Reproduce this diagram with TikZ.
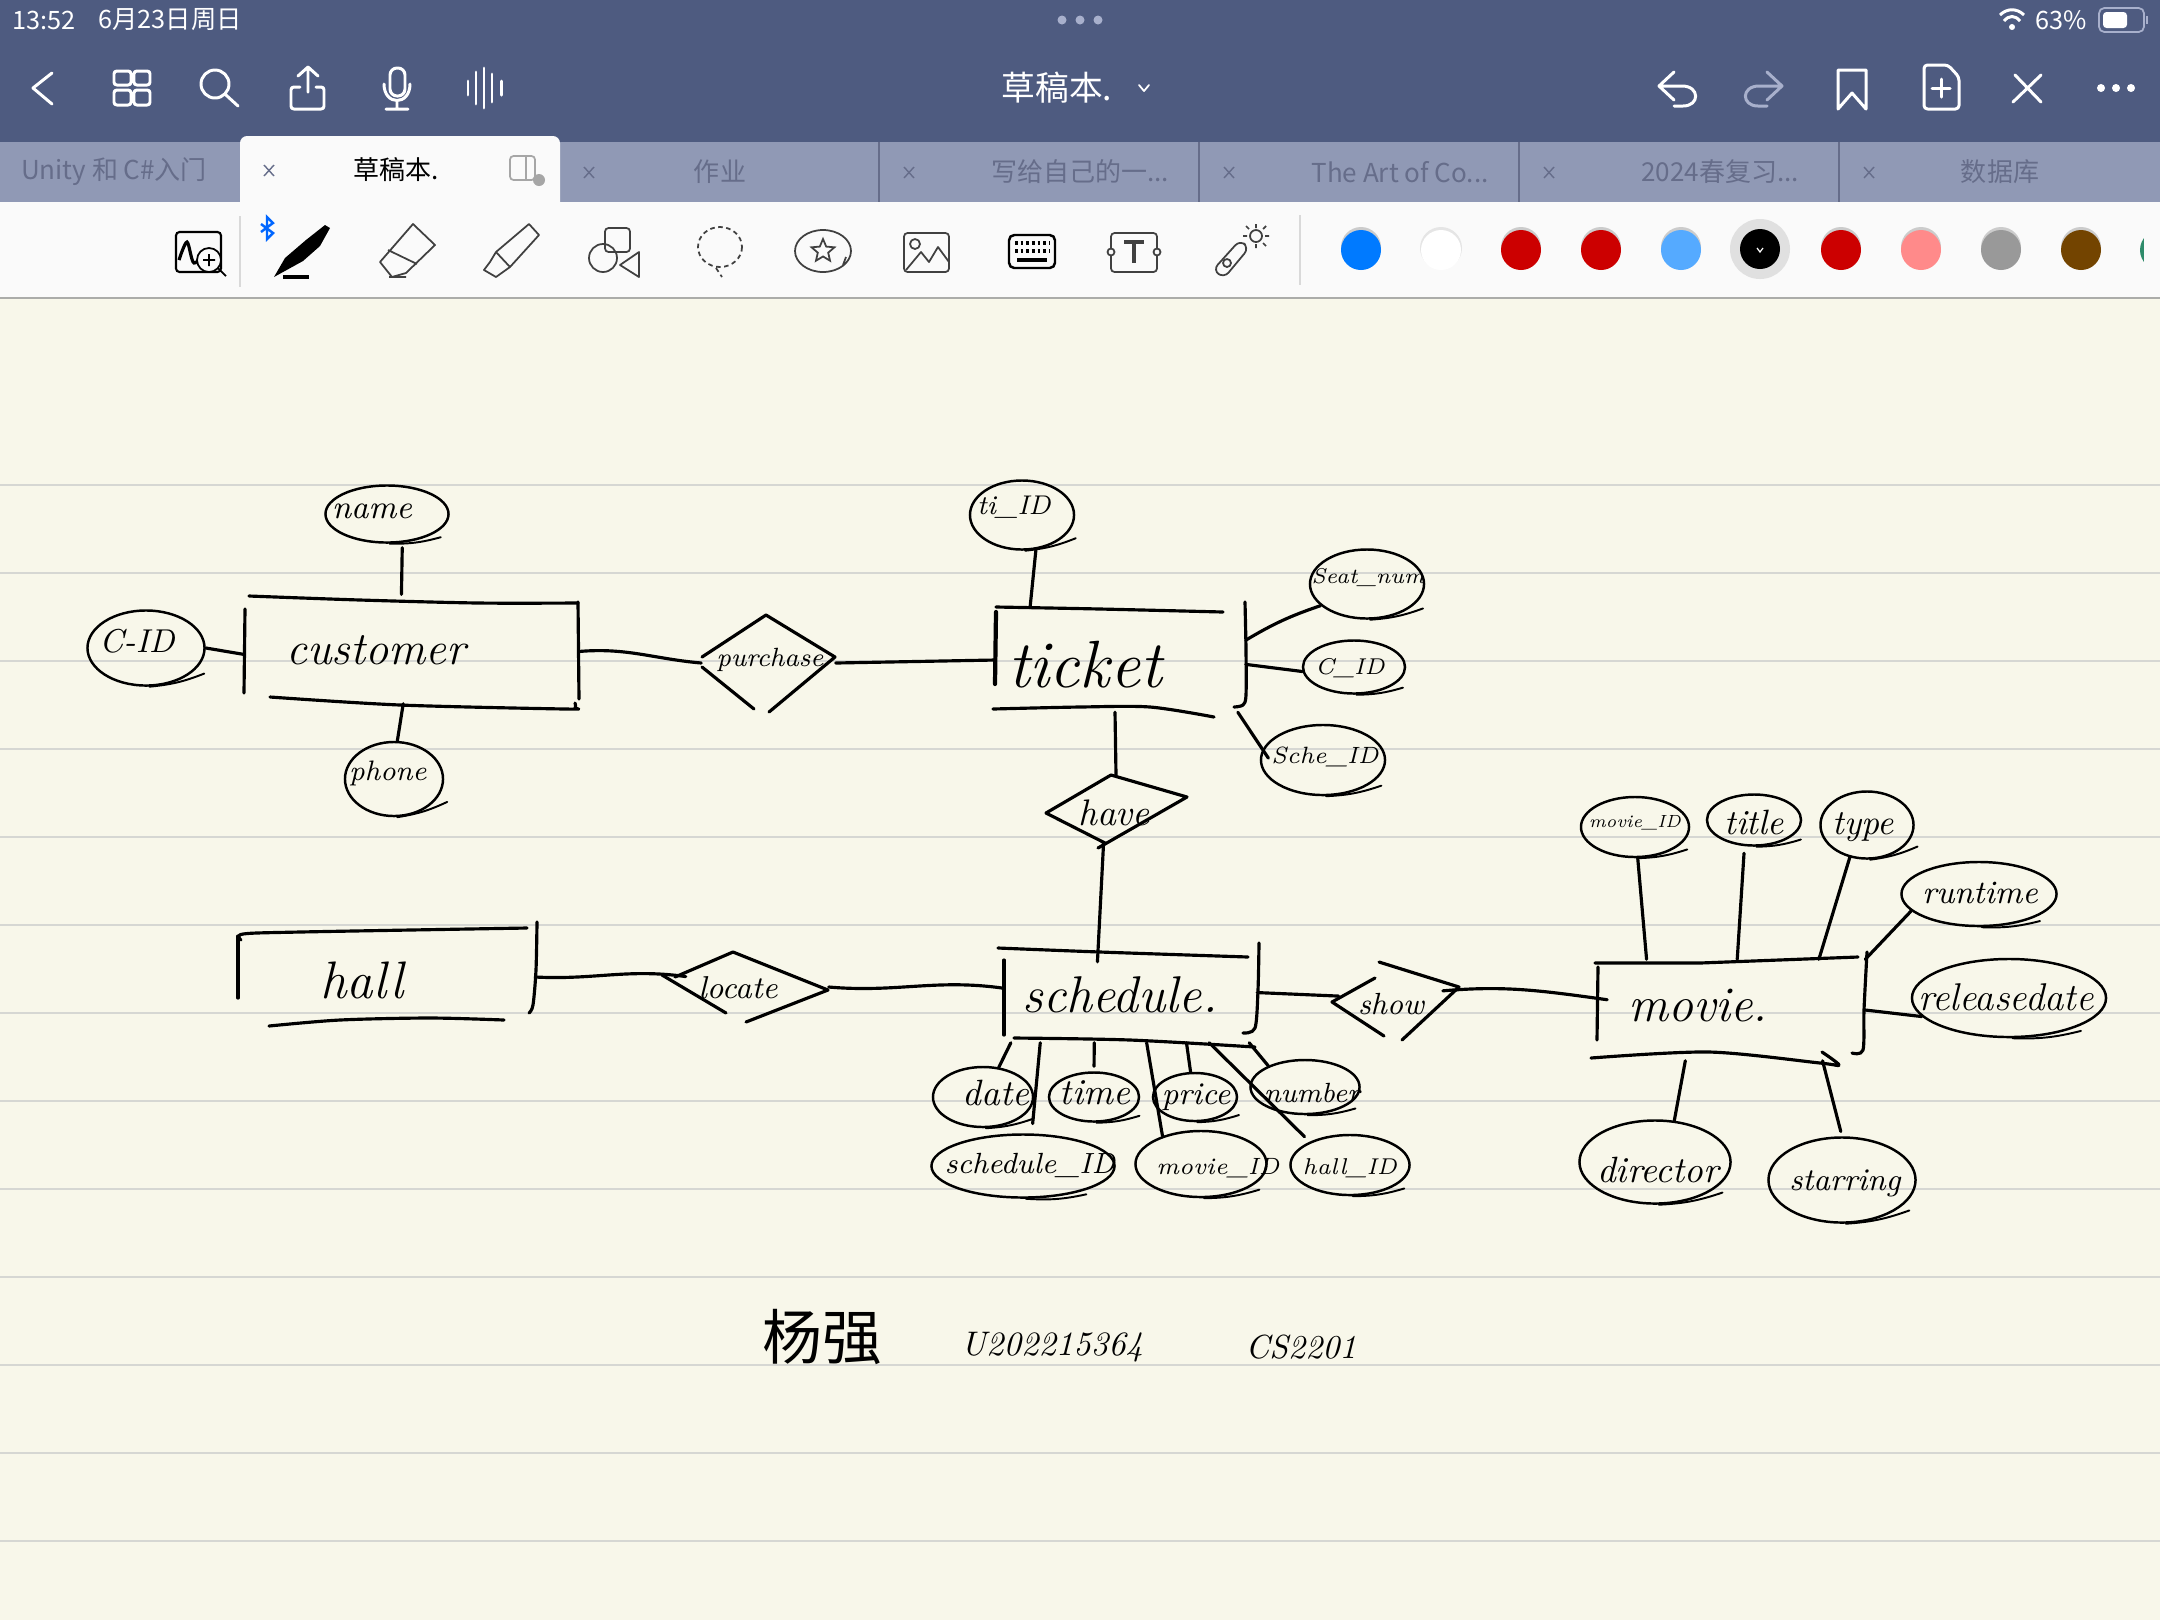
\documentclass[tikz,border=0pt]{standalone}
\usepackage{fontspec}
\usepackage{xcolor}
\usetikzlibrary{shapes.geometric}
\newfontfamily\cjk{Noto Sans CJK SC}
\definecolor{barblue}{HTML}{4E5B80}
\definecolor{tabblue}{HTML}{9099B5}
\definecolor{tabtext}{HTML}{666D8A}
\definecolor{paper}{HTML}{F8F7EA}
\definecolor{ruled}{HTML}{D6D7D3}
\definecolor{dimblue}{HTML}{A8B0CC}
\definecolor{toolgray}{HTML}{404040}
\definecolor{toolbg}{HTML}{FAFAFA}
\begin{document}
\begin{tikzpicture}[x=0.01cm, y=-0.01cm,
    pen/.style={line width=.9pt, line cap=round, line join=round},
    tail/.style={line width=.55pt, line cap=round},
    attr/.style={shape=ellipse, draw, line width=.7pt, inner sep=0pt,
        append after command={(\tikzlastnode.-85) edge[tail, bend right=8] ([shift={(12,1)}]\tikzlastnode.-28)}},
    entity/.style={shape=rectangle, inner sep=0pt},
    rel/.style={shape=diamond, inner sep=0pt},
    hand/.style={font=\fontsize{#1}{#1}\selectfont\itshape, inner sep=0pt},
    icon/.style={draw=white, line width=.85pt, line cap=round, line join=round},
    tool/.style={draw=toolgray, line width=.5pt, line join=round},
    uitext/.style={font=\cjk\fontsize{#1}{#1}\selectfont, inner sep=0pt},
    closer/.style={draw=tabtext, line width=.4pt}]
\useasboundingbox (0,0) rectangle (2160,1620);
\fill[paper] (0,0) rectangle (2160,1620);
\draw[ruled, line width=.6pt] (0,485) -- (2160,485) (0,573) -- (2160,573) (0,661) -- (2160,661)
    (0,749) -- (2160,749) (0,837) -- (2160,837) (0,925) -- (2160,925) (0,1013) -- (2160,1013)
    (0,1101) -- (2160,1101) (0,1189) -- (2160,1189) (0,1277) -- (2160,1277) (0,1365) -- (2160,1365)
    (0,1453) -- (2160,1453) (0,1541) -- (2160,1541);

% app bars
\fill[barblue] (0,0) rectangle (2160,142);
\fill[tabblue] (0,142) rectangle (2160,202);
\fill[toolbg] (0,202) rectangle (2160,298);
\draw[ruled!80!black, line width=.5pt] (0,298) -- (2160,298);
\fill[toolbg, rounded corners=2pt] (240,136) rectangle (560,210);
\fill[toolbg] (240,190) rectangle (560,202);
\fill[toolbg] (235,202) rectangle (565,215);
\draw[tabtext, line width=.3pt] (879,142) -- (879,202) (1199,142) -- (1199,202) (1519,142) -- (1519,202) (1839,142) -- (1839,202);

% status line
\node[uitext=7.2, white] (clock) at (44,20) {13:52};
\node[uitext=7.2, white] (today) at (170,20) {6月23日周日};
\fill[dimblue] (1062,20) circle (4.5) (1080,20) circle (4.5) (1098,20) circle (4.5);
\fill[white] (2012,27) circle (3);
\draw[white, line width=.85pt] (2000,15) .. controls (2007,8) and (2017,8) .. (2024,15)
    (2004,21) .. controls (2009,15) and (2015,15) .. (2020,21);
\node[uitext=7.2, white] (percent) at (2061,20) {63\%};
\draw[dimblue, line width=.5pt, rounded corners=1.5pt] (2099,8) rectangle (2144,32);
\fill[white, rounded corners=1pt] (2103,12) rectangle (2127,28);
\draw[dimblue, line width=.5pt] (2147,16) -- (2147,24);

% left icons
\draw[icon] (52,73) -- (33,88) -- (52,104);
\draw[icon, rounded corners=.8pt] (114,71) rectangle (131,85) (134,71) rectangle (150,85) (114,90) rectangle (131,105) (134,90) rectangle (150,105);
\draw[icon] (215,84) circle (14) (226,95) -- (238,106);
\draw[icon, rounded corners=.8pt] (300,87) -- (291,87) -- (291,109) -- (324,109) -- (324,87) -- (316,87);
\draw[icon] (308,92) -- (308,67) (298,76) -- (308,67) -- (318,76);
\draw[icon, rounded corners=2pt] (390,68) rectangle (405,96);
\draw[icon] (384,84) .. controls (384,106) and (410,106) .. (410,84) (397,102) -- (397,109) (386,109) -- (408,109);
\draw[icon] (468,81) -- (468,95) (476,72) -- (476,104) (484,68) -- (484,108) (492,74) -- (492,102) (501,81) -- (501,95);

% title and right icons
\node[uitext=9.6, white] (title) at (1057,88) {草稿本.};
\draw[icon, line width=.5pt] (1139,85) -- (1144,91) -- (1149,85);
\draw[icon] (1674,72) -- (1659,86) -- (1674,100) (1659,86) -- (1682,86) .. controls (1700,86) and (1700,106) .. (1683,106) -- (1674,106);
\draw[icon, draw=dimblue] (1767,72) -- (1782,86) -- (1767,100) (1782,86) -- (1759,86) .. controls (1741,86) and (1741,106) .. (1758,106) -- (1767,106);
\draw[icon] (1838,109) -- (1838,70) -- (1866,70) -- (1866,109) -- (1852,93) -- cycle;
\draw[icon, rounded corners=1pt] (1924,65) -- (1948,65) -- (1959,77) -- (1959,109) -- (1924,109) -- cycle;
\draw[icon] (1941,79) -- (1941,97) (1932,88) -- (1950,88);
\draw[icon] (2015,75) -- (2041,102) (2041,75) -- (2013,102);
\fill[white] (2101,88) circle (4) (2116,88) circle (4) (2131,88) circle (4);

% tabs
\node[uitext=7.4, tabtext] (tabunity) at (114,172) {Unity 和 C\#入门};
\node[uitext=7.4, black] (tabdraft) at (396,170) {草稿本.};
\node[uitext=7.4, tabtext] (tabwork) at (720,172) {作业};
\node[uitext=7.4, tabtext] (tabwrite) at (1080,172) {写给自己的一...};
\node[uitext=7.4, tabtext] (tabart) at (1400,172) {The Art of Co...};
\node[uitext=7.4, tabtext] (tabspring) at (1720,172) {2024春复习...};
\node[uitext=7.4, tabtext] (tabbase) at (2000,172) {数据库};
\draw[closer] (264,165) -- (274,176) (274,165) -- (264,176) (584,167) -- (594,178) (594,167) -- (584,178)
    (904,167) -- (914,178) (914,167) -- (904,178) (1224,167) -- (1234,178) (1234,167) -- (1224,178)
    (1544,167) -- (1554,178) (1554,167) -- (1544,178) (1864,167) -- (1874,178) (1874,167) -- (1864,178);
\draw[black!35, line width=.5pt, rounded corners=1pt] (510,156) rectangle (535,180) (526,156) -- (526,180);
\fill[black!35] (539,180) circle (6);

% tool row
\draw[black!15, line width=.4pt] (240,216) -- (240,287) (1300,215) -- (1300,285);
\draw[black, line width=.6pt, rounded corners=1pt] (176,232) rectangle (221,272);
\draw[black, line width=.9pt] plot[smooth] coordinates {(179,260) (187,242) (194,263) (207,250)};
\filldraw[fill=toolbg, draw=black, line width=.5pt] (209,260) circle (12);
\draw[black, line width=.5pt] (218,268) -- (226,276) (209,254) -- (209,266) (203,260) -- (215,260);
\draw[blue!60!cyan, line width=.7pt] (261,224) -- (273,233) -- (267,239) -- (267,217) -- (273,223) -- (261,232);
\fill[black] (274,277) -- (285,258) -- (306,240) -- (325,225) -- (330,228) -- (320,246) -- (303,261) -- cycle;
\draw[black, line width=.9pt] (283,277) -- (309,277);
\draw[tool] (413,224) -- (435,245) -- (406,273) -- (392,277) -- (380,262) -- cycle (388,250) -- (417,264) (389,277) -- (406,277);
\draw[tool] (529,224) -- (539,235) -- (510,267) -- (496,277) -- (484,270) -- (490,262) -- (496,252) -- cycle (496,252) -- (510,267);
\draw[tool, rounded corners=1pt] (605,228) rectangle (630,252);
\draw[tool] (603,258) circle (14) (639,252) -- (620,265) -- (639,277) -- cycle;
\draw[tool, dash pattern=on 1.3pt off 1pt] (720,247) ellipse (22 and 20) (716,268) -- (722,277);
\draw[tool] (823,251) ellipse (28 and 21) (843,265) -- (846,257);
\node[star, star points=5, star point ratio=2.2, draw=toolgray, line width=.5pt, inner sep=0pt, minimum size=.24cm] (sticker) at (823,251) {};
\draw[tool, rounded corners=1pt] (904,233) rectangle (949,272);
\draw[tool] (915,244) circle (5) (906,270) -- (921,252) -- (929,262) -- (938,247) -- (949,262);
\draw[black, line width=.7pt, rounded corners=1.5pt] (1009,235) rectangle (1055,268);
\draw[black, line width=1pt, dash pattern=on .8pt off .8pt] (1015,243) -- (1050,243) (1015,251) -- (1050,251);
\draw[black, line width=1.2pt] (1017,260) -- (1047,260);
\draw[tool, rounded corners=1pt] (1111,233) rectangle (1157,272);
\filldraw[fill=toolbg, draw=toolgray, line width=.5pt] (1111,252) circle (3.5) (1157,252) circle (3.5);
\draw[toolgray, line width=1.1pt] (1124,242) -- (1144,242) (1134,242) -- (1134,263);
\draw[tool, rounded corners=2pt] (1240,240) -- (1249,248) -- (1224,278) -- (1213,270) -- cycle;
\draw[tool] (1227,263) circle (4) (1256,236) circle (6);
\draw[tool] (1256,224) -- (1256,228) (1256,244) -- (1256,248) (1243,236) -- (1247,236) (1265,236) -- (1269,236) (1246,226) -- (1249,229) (1263,243) -- (1266,246) (1266,226) -- (1263,229);

% pen colours
\fill[black!12] (1760,249) circle (30);
\fill[black!10] (1441,248) circle (21);
\fill[white] (1441,250) circle (20);
\fill[black!20] (1521,247) circle (20) (1601,247) circle (20) (1681,247) circle (20) (1361,247) circle (20) (1841,247) circle (20) (1921,247) circle (20) (2001,247) circle (20) (2081,247) circle (20);
\fill[fill={rgb,255:red,0;green,122;blue,255}] (1361,250) circle (20);
\fill[fill={rgb,255:red,204;green,0;blue,0}] (1521,250) circle (20) (1601,250) circle (20) (1841,250) circle (20);
\fill[fill={rgb,255:red,85;green,170;blue,255}] (1681,250) circle (20);
\fill[black] (1760,249) circle (20);
\draw[white, line width=.35pt] (1757,248) -- (1760,252) -- (1763,248);
\fill[fill={rgb,255:red,255;green,138;blue,138}] (1921,250) circle (20);
\fill[fill={rgb,255:red,153;green,153;blue,153}] (2001,250) circle (20);
\fill[fill={rgb,255:red,115;green,68;blue,0}] (2081,250) circle (20);
\fill[fill={rgb,255:red,46;green,139;blue,106}] (2160,250) circle (20);
\fill[toolbg] (2144,215) rectangle (2160,285);% only a sliver of the last colour shows

% entity boxes
\node[entity, minimum width=3.33cm, minimum height=1.03cm] (customer) at (411.5,651.5) {};
\node[entity, minimum width=2.49cm, minimum height=1.03cm] (ticket) at (1120.5,660) {};
\node[entity, minimum width=2.97cm, minimum height=.93cm] (hall) at (386,977) {};
\node[entity, minimum width=2.53cm, minimum height=.90cm] (schedule) at (1130,997) {};
\node[entity, minimum width=2.67cm, minimum height=1.00cm] (movie) at (1731,1010) {};
\node[hand=13.2] (customertext) at (376,650) {customer};
\node[hand=19] (tickettext) at (1085,665) {ticket};
\node[hand=15] (halltext) at (362,980) {hall};
\node[hand=14.7] (scheduletext) at (1120,995) {schedule.};
\node[hand=14.2] (movietext) at (1698,1005) {movie.};
\draw[pen] plot[smooth] coordinates {(249,596) (360,600) (478,603) (578,603)};% customer strokes
\draw[pen] (245,609) -- (244,693) (578,602) -- (579,699);
\draw[pen] plot[smooth] coordinates {(270,697) (400,705) (565,709) (575,708) (575,703)};
\draw[pen] plot[smooth] coordinates {(996,607) (1100,609) (1223,612)};% ticket strokes
\draw[pen, line width=1.2pt] (996,612) -- (995,684);
\draw[pen] plot[smooth] coordinates {(1245,602) (1246,650) (1246,695) (1243,705) (1234,707)};
\draw[pen] plot[smooth] coordinates {(993,709) (1080,707) (1150,707) (1214,717)};
\draw[pen] plot[smooth] coordinates {(241,940) (243,934) (300,932) (527,928)};% hall strokes
\draw[pen] (238,936) -- (238,998);
\draw[pen] plot[smooth] coordinates {(537,922) (536,970) (533,1005) (529,1013)};
\draw[pen] plot[smooth] coordinates {(269,1026) (340,1020) (430,1018) (504,1020)};
\draw[pen] plot[smooth] coordinates {(998,948) (1100,952) (1248,957)};% schedule strokes
\draw[pen] (1004,960) -- (1004,1035);
\draw[pen] plot[smooth] coordinates {(1259,943) (1258,990) (1255,1028) (1243,1033)};
\draw[pen] plot[smooth] coordinates {(1014,1038) (1130,1040) (1255,1047)};
\draw[pen] (1595,963) -- (1700,963) -- (1858,957);% movie strokes
\draw[pen] (1598,967) -- (1597,1040);
\draw[pen] plot[smooth] coordinates {(1867,952) (1864,1010) (1863,1050) (1852,1053)};
\draw[pen] plot[smooth] coordinates {(1591,1058) (1709,1052) (1820,1063) (1839,1065) (1822,1052)};

% relationship diamonds
\node[rel, aspect=1.37, minimum width=1.33cm, minimum height=.97cm] (purchase) at (768.5,663) {};
\node[rel, aspect=1.93, minimum width=1.41cm, minimum height=.73cm] (have) at (1116,812) {};
\node[rel, aspect=2.37, minimum width=1.66cm, minimum height=.70cm] (locate) at (745,987) {};
\node[rel, aspect=1.63, minimum width=1.27cm, minimum height=.78cm] (show) at (1395,1001) {};
\node[hand=7.5] (purchasetext) at (770,660) {purchase};
\node[hand=10.5] (havetext) at (1114,813) {have};
\node[hand=9] (locatetext) at (738,988) {locate};
\node[hand=8.7] (showtext) at (1391,1004) {show};
\draw[pen] (702,657) -- (766,615) -- (835,657) -- (769,712) (702,667) -- (754,709);
\draw[pen] (1046,813) -- (1111,775) -- (1187,797) -- (1098,848) (1046,813) -- (1105,843);
\draw[pen] (675,977) -- (733,952) -- (828,990) -- (746,1022) (662,975) -- (726,1013);
\draw[pen] (1375,978) -- (1332,1002) -- (1384,1036) (1379,962) -- (1459,987) -- (1402,1040);

% customer attributes
\node[attr, minimum width=1.23cm, minimum height=.57cm] (name) at (387,514) {};
\node[attr, minimum width=1.17cm, minimum height=.75cm] (custid) at (146,648) {};
\node[attr, minimum width=.98cm, minimum height=.74cm] (phone) at (394,779) {};
\node[hand=9.4] (nametext) at (372,511) {name};
\node[hand=9.4] (custidtext) at (137,641) {C-ID};
\node[hand=8] (phonetext) at (388,773) {phone};

% ticket attributes
\node[attr, minimum width=1.04cm, minimum height=.69cm] (tiid) at (1022,515) {};
\node[attr, minimum width=1.14cm, minimum height=.69cm] (seatnum) at (1367,584) {};
\node[attr, minimum width=1.02cm, minimum height=.53cm] (cid) at (1354,667) {};
\node[attr, minimum width=1.24cm, minimum height=.70cm] (scheid) at (1323,760) {};
\node[hand=7.7] (tiidtext) at (1014,507) {ti\_ID};
\node[hand=6.1] (seatnumtext) at (1368,578) {Seat\_num};
\node[hand=6.5] (cidtext) at (1350,668) {C\_ID};
\node[hand=6.7] (scheidtext) at (1325,757) {Sche\_ID};

% schedule attributes
\node[attr, minimum width=1.00cm, minimum height=.60cm] (date) at (983,1097) {};
\node[attr, minimum width=.90cm, minimum height=.49cm] (time) at (1094,1097) {};
\node[attr, minimum width=.84cm, minimum height=.48cm] (price) at (1195,1097) {};
\node[attr, minimum width=1.09cm, minimum height=.54cm] (number) at (1305,1087) {};
\node[attr, minimum width=1.83cm, minimum height=.63cm] (schedid) at (1023,1166) {};
\node[attr, minimum width=1.31cm, minimum height=.66cm] (showmovie) at (1201,1164) {};
\node[attr, minimum width=1.19cm, minimum height=.60cm] (hallid) at (1350,1165) {};
\node[hand=10.4] (datetext) at (996,1093) {date};
\node[hand=10.4] (timetext) at (1095,1093) {time};
\node[hand=9] (pricetext) at (1196,1097) {price};
\node[hand=7.9] (numbertext) at (1312,1093) {number};
\node[hand=8.3] (schedidtext) at (1030,1165) {schedule\_ID};
\node[hand=6.7] (showmovietext) at (1218,1168) {movie\_ID};
\node[hand=6.5] (hallidtext) at (1350,1168) {hall\_ID};

% movie attributes
\node[attr, minimum width=1.08cm, minimum height=.60cm] (movieid) at (1635,827) {};
\node[attr, minimum width=.94cm, minimum height=.51cm] (mtitle) at (1754,820) {};
\node[attr, minimum width=.93cm, minimum height=.67cm] (mtype) at (1867,825) {};
\node[attr, minimum width=1.55cm, minimum height=.64cm] (runtime) at (1979,894) {};
\node[attr, minimum width=1.94cm, minimum height=.78cm] (release) at (2009,998) {};
\node[attr, minimum width=1.51cm, minimum height=.83cm] (director) at (1655,1162) {};
\node[attr, minimum width=1.47cm, minimum height=.85cm] (starring) at (1842,1180) {};
\node[hand=5] (movieidtext) at (1635,823) {movie\_ID};
\node[hand=10] (mtitletext) at (1754,822) {title};
\node[hand=10] (mtypetext) at (1863,827) {type};
\node[hand=9.3] (runtimetext) at (1980,893) {runtime};
\node[hand=11] (releasetext) at (2006,997) {releasedate};
\node[hand=10.4] (directortext) at (1658,1170) {director};
\node[hand=9] (starringtext) at (1845,1183) {starring};

% connectors
\draw[pen, shorten <=1.4pt, shorten >=1.4pt] (name.-62) -- (customer.101);
\draw[pen] (custid.east) -- (customer.181);
\draw[pen] (customer.-99) -- (phone.85);
\draw[pen] (customer.east) to[out=5,in=175] (purchase.west);
\draw[pen] (purchase.east) -- (ticket.west);
\draw[pen] (tiid.-68) -- (ticket.150);
\draw[pen] (seatnum.205) to[bend right=6] (ticket.9);
\draw[pen] (ticket.-2) -- (cid.185);
\draw[pen, shorten >=-3pt] (ticket.-24) -- (scheid.170);
\draw[pen] (ticket.-96) -- (have.north);
\draw[pen, shorten >=-3pt] (have.-112) -- (schedule.125);
\draw[pen] (hall.east) to[out=-3,in=172] (locate.170);
\draw[pen] (locate.east) to[out=-5,in=172] (schedule.176);
\draw[pen] (schedule.2) -- (show.175);
\draw[pen, shorten >=-3pt] (show.12) to[out=5,in=172] (movie.175);
\draw[pen] (schedule.-159) -- (date.62);
\draw[pen, shorten >=2.8pt] (schedule.-153) -- (schedid.75);
\draw[pen, shorten >=1.4pt] (schedule.-128) -- (time.north);
\draw[pen] (schedule.-70) -- (showmovie.144);
\draw[pen] (schedule.-39) -- (price.100);
\draw[pen, shorten >=2pt] (schedule.-30) -- (hallid.150);
\draw[pen] (schedule.-21) -- (number.150);
\draw[pen] (movieid.-85) -- (movie.149);
\draw[pen, shorten <=2pt] (mtitle.-110) -- (movie.83);
\draw[pen] (mtype.-118) -- (movie.30);
\draw[pen] (runtime.194) -- (movie.north east);
\draw[pen] (release.192) -- (movie.east);
\draw[pen] (movie.-132) -- (director.65);
\draw[pen, shorten >=1.4pt] (movie.-29) -- (starring.north);

% signature
\node[font=\cjk\fontsize{17}{17}\selectfont, inner sep=0pt] (signname) at (822,1337) {杨强};
\node[hand=9.7] (signid) at (1052,1347) {U202215364};
\node[hand=9.5] (signclass) at (1301,1347) {CS2201};
\end{tikzpicture}
\end{document}
